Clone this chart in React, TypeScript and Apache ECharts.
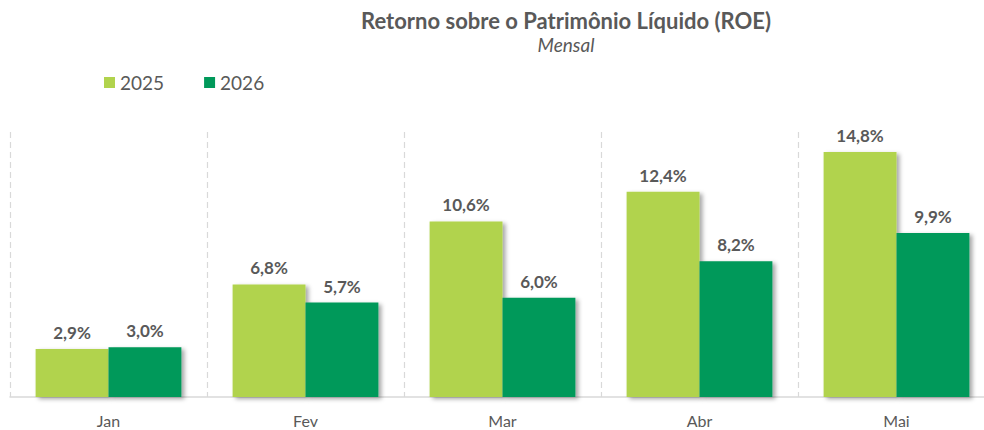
import React, { useEffect, useRef } from "react";
import * as echarts from "echarts";

const categories = ["Jan", "Fev", "Mar", "Abr", "Mai"];
const series2025 = [2.9, 6.8, 10.6, 12.4, 14.8];
const series2026 = [3.0, 5.7, 6.0, 8.2, 9.9];
const seriesNames = ["2025", "2026"];

const FONT = "Lato, 'Open Sans', sans-serif";
const TEXT = "#595959";

export default function App() {
  const ref = useRef<HTMLDivElement>(null);
  useEffect(() => {
    if (!ref.current) return;
    const chart = echarts.init(ref.current, null, { renderer: "svg" });
    const fmt = (p: any) => p.value.toFixed(1).replace(".", ",") + "%";
    const barCommon = {
      type: "bar",
      barGap: "0%",
      barCategoryGap: "26%",
      label: {
        show: true,
        position: "top",
        distance: 8,
        formatter: fmt,
        color: TEXT,
        fontFamily: FONT,
        fontWeight: "bold",
        fontSize: 17,
      },
    };
    chart.setOption({
      animation: false,
      textStyle: { fontFamily: FONT },
      title: {
        text: "Retorno sobre o Patrimônio Líquido (ROE)",
        subtext: "Mensal",
        left: 561,
        textAlign: "center",
        top: 4,
        itemGap: 4,
        textStyle: { color: TEXT, fontSize: 22, fontWeight: "bold", fontFamily: FONT },
        subtextStyle: { color: TEXT, fontSize: 19, fontStyle: "italic", fontFamily: FONT },
      },
      legend: {
        left: 99,
        top: 68,
        itemWidth: 11,
        itemHeight: 11,
        itemGap: 40,
        icon: "rect",
        textStyle: { color: TEXT, fontSize: 19, fontFamily: FONT },
        data: seriesNames,
      },
      grid: { left: 10, top: 132, width: 985, height: 265, containLabel: false },
      xAxis: {
        type: "category",
        data: categories,
        axisLine: { lineStyle: { color: "#d9d9d9", width: 1.5 } },
        axisTick: { show: false },
        axisLabel: { color: TEXT, fontSize: 16, margin: 15, fontFamily: FONT },
        splitLine: { show: true, lineStyle: { color: "#d9d9d9", type: [6, 4], width: 1.2 } },
      },
      yAxis: {
        type: "value",
        min: 0,
        max: 16,
        show: false,
        splitLine: { show: false },
      },
      series: [
        {
          ...barCommon,
          name: seriesNames[0],
          data: series2025,
          itemStyle: {
            color: "#b1d34d",
            shadowColor: "rgba(0,0,0,0.35)",
            shadowBlur: 4,
            shadowOffsetX: 3,
            shadowOffsetY: 2,
          },
        },
        {
          ...barCommon,
          name: seriesNames[1],
          data: series2026,
          itemStyle: {
            color: "#00995a",
            shadowColor: "rgba(0,0,0,0.35)",
            shadowBlur: 4,
            shadowOffsetX: 3,
            shadowOffsetY: 2,
          },
        },
      ],
    });
    return () => chart.dispose();
  }, []);
  return (
    <div
      style={{ position: "absolute", left: 0, top: 0, width: 984, height: 430, overflow: "hidden", background: "#fff" }}
    >
      <div ref={ref} style={{ width: 1010, height: 430 }} />
    </div>
  );
}
